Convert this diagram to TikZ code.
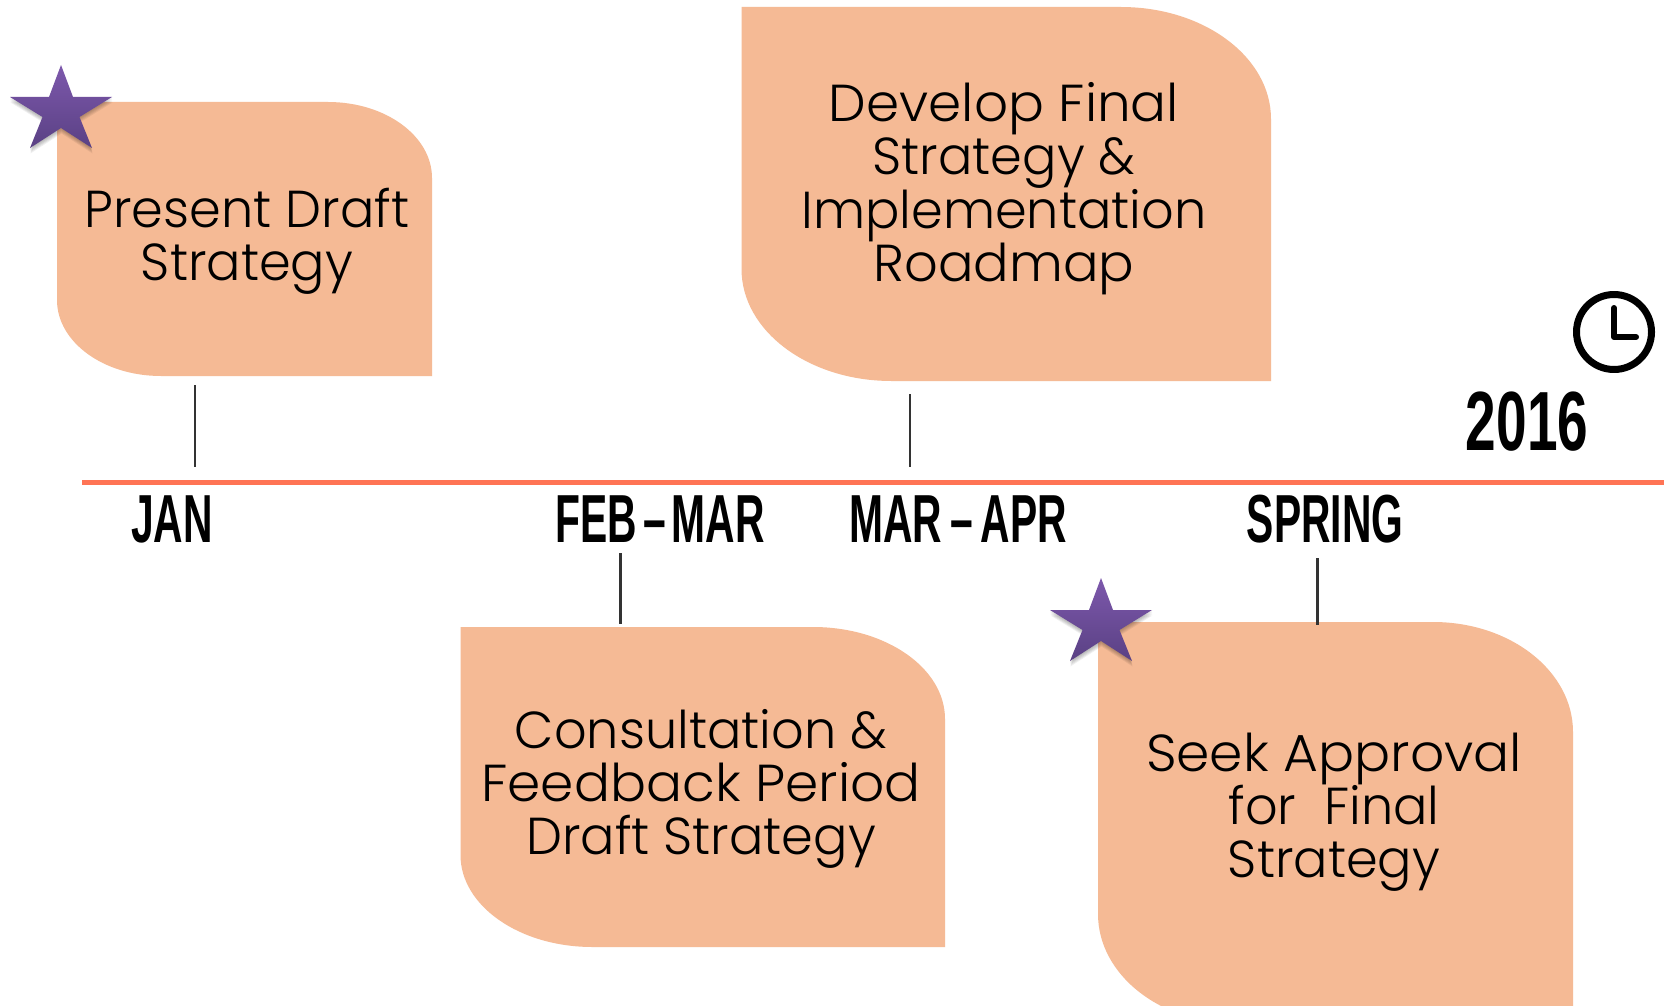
\documentclass[tikz,border=0pt]{standalone}
\usepackage{fontspec}
\setmainfont{Poppins}
\newfontfamily\bodyfont[FakeStretch=0.98]{Poppins Light}
\newfontfamily\labfont[FakeStretch=0.6]{Liberation Sans}
\newfontfamily\yearfont[FakeStretch=0.655]{Liberation Sans}
\newcommand{\widen}[2]{\scalebox{#1}[1]{#2}}
\tikzset{
  leaf/.style={fill=boxorange,draw=none},
  bodytext/.style={align=center,inner sep=0pt,font=\bodyfont\fontsize{52}{53}\selectfont,text=black},
  datelabel/.style={inner sep=0pt,font=\labfont\bfseries\fontsize{68}{68}\selectfont,text=black},
  yearlabel/.style={inner sep=0pt,font=\yearfont\bfseries\fontsize{84}{84}\selectfont,text=black},
  tick/.style={draw=tickgray,line width=2.2pt},
  timeline/.style={draw=lineorange,line width=5pt},
  clockline/.style={draw=black,line width=7pt,line cap=round,line join=round}
}
\definecolor{boxorange}{HTML}{F5BA95}
\definecolor{lineorange}{HTML}{FF7455}
\definecolor{tickgray}{HTML}{333333}
\definecolor{startop}{HTML}{7D58AC}
\definecolor{starbot}{HTML}{5A4184}
\newcommand{\leafbox}[6]{%
  \fill[leaf] (#1,#2) -- ({#3-#5},#2)
    .. controls ({#3-0.447*#5},#2) and (#3,{#2+0.447*#6}) .. (#3,{#2+#6})
    -- (#3,#4) -- ({#1+#5},#4)
    .. controls ({#1+0.447*#5},#4) and (#1,{#4-0.447*#6}) .. (#1,{#4-#6})
    -- cycle;}
\newcommand{\starpath}[2]{%
    (#1,#2) -- ({#1+12},{#2+32}) -- ({#1+51},{#2+32})
    -- ({#1+18.5},{#2+52}) -- ({#1+31},{#2+83}) -- (#1,{#2+63})
    -- ({#1-31},{#2+83}) -- ({#1-18.5},{#2+52}) -- ({#1-51},{#2+32})
    -- ({#1-12},{#2+32}) -- cycle}
\newcommand{\starshape}[2]{%
  \foreach \k in {1,...,5}{
    \fill[black,opacity=0.06] \starpath{#1+0.1*\k}{#2+1.1*\k};
  }
  \shade[top color=startop,bottom color=starbot] \starpath{#1}{#2};}
\begin{document}
\begin{tikzpicture}[x=1pt,y=-1pt]
\useasboundingbox (0,0) rectangle (1665,1006);
\clip (0,0) rectangle (1665,1006);
\fill[white] (0,0) rectangle (1665,1006);

% boxes
\leafbox{57}{102}{432}{376}{104}{76}
\leafbox{741.5}{7}{1271}{381}{150}{112}
\leafbox{460.5}{627}{945}{947}{132}{92}
\leafbox{1098}{622}{1573}{1024}{140}{110}

% box texts
\node[bodytext] (present) at (247,241.5) {Present Draft\\Strategy};
\node[bodytext] (develop) at (1004,189) {\widen{1.045}{Develop Final}\\Strategy \&\\Implementation\\\widen{1.034}{Roadmap}};
\node[bodytext] (consult) at (701,788.5) {Consultation \&\\\widen{1.048}{Feedback Period}\\Draft Strategy};
\node[bodytext] (seek) at (1334,812.5) {\widen{1.05}{Seek Approval}\\for\ \ Final\\Strategy};

% timeline
\coordinate (lineL) at (82,482);
\coordinate (lineR) at (1664,482);
\draw[timeline] (lineL) -- (lineR);

% ticks
\coordinate (t1a) at (195,385); \coordinate (t1b) at (195,467);
\coordinate (t2a) at (910,394); \coordinate (t2b) at (910,467);
\coordinate (t3a) at (620,553); \coordinate (t3b) at (620,624);
\coordinate (t4a) at (1317.5,558); \coordinate (t4b) at (1317.5,625);
\draw[tick] (t1a) -- (t1b);
\draw[tick] (t2a) -- (t2b);
\draw[tick,line width=3pt] (t3a) -- (t3b);
\draw[tick,line width=3pt] (t4a) -- (t4b);

% date labels
\node[datelabel] (jan) at (172,519) {JAN};
\node[datelabel] (feb) at (660,519) {FEB\hspace{6pt}–\hspace{6pt}MAR};
\node[datelabel] (mar) at (958,519) {MAR\hspace{8pt}–\hspace{8pt}APR};
\node[datelabel] (spring) at (1325,519) {SPRING};
\node[yearlabel] (year) at (1527,422) {2016};

% stars
\starshape{61}{65}
\starshape{1101}{578}

% clock
\draw[clockline] (1614,332) circle (37.5);
\coordinate (hA) at (1614,308);
\coordinate (hB) at (1614,337);
\coordinate (hC) at (1636,337);
\draw[clockline,line width=6pt] (hA) -- (hB) -- (hC);
\end{tikzpicture}
\end{document}
